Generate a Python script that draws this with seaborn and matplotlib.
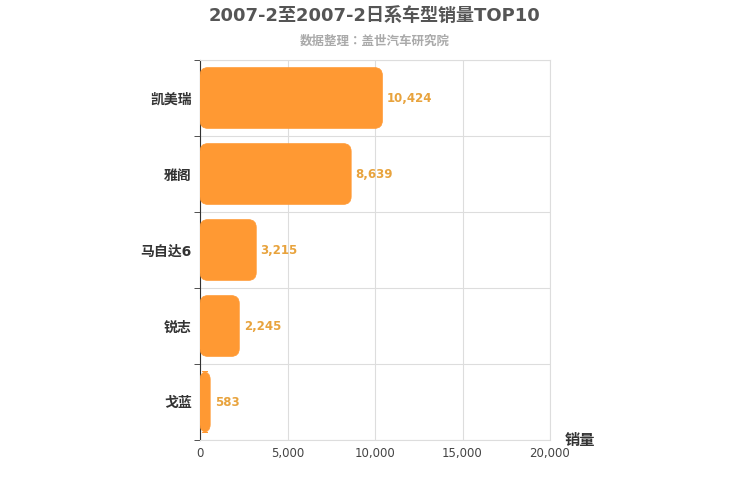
import matplotlib
matplotlib.use("Agg")
import matplotlib.pyplot as plt
import seaborn as sns
import pandas as pd
from matplotlib.patches import FancyBboxPatch

models = ["凯美瑞", "雅阁", "马自达6", "锐志", "戈蓝"]
sales = [10424, 8639, 3215, 2245, 583]
xticks = [0, 5000, 10000, 15000, 20000]

plt.rcParams["font.family"] = ["DejaVu Sans", "Noto Sans CJK SC", "Noto Sans CJK JP",
                               "Noto Sans CJK TC", "Noto Sans CJK KR"]
df = pd.DataFrame({"model": models, "sales": sales})
fig = plt.figure(figsize=(7.5, 5), dpi=100)
ax = fig.add_axes([200/750, 60/500, 350/750, 380/500])
sns.barplot(data=df, y="model", x="sales", orient="h", color="#FF9933", width=0.8, ax=ax, zorder=3)
ax.set_xlim(0, 20000)
ax.set_ylim(4.5, -0.5)
asp = (5/380)/(20000/350)
for p in list(ax.patches):
    x, y = p.get_x(), p.get_y()
    w, h = p.get_width(), p.get_height()
    fb = FancyBboxPatch((x, y), w, h, boxstyle="round,pad=0,rounding_size=450",
                        mutation_aspect=asp, fc="#FF9933", ec="#FF9933", lw=0.5, zorder=3)
    p.set_visible(False)
    ax.add_patch(fb)
for i, v in enumerate(sales):
    ax.text(v + 250, i, f"{v:,}", va="center", ha="left", color="#E8A33D", fontsize=8.5, fontweight="bold")
ax.set_xticks(xticks)
ax.set_xticklabels([f"{t:,}" for t in xticks], fontsize=8.5, color="#444444")
ax.set_yticks(range(len(models)))
ax.set_yticklabels(models, fontsize=10, fontweight="bold", color="#333333")
ax.tick_params(axis="y", length=0, pad=6)
ax.tick_params(axis="x", length=0, pad=5)
ax.set_yticks([i - 0.5 for i in range(len(models) + 1)], minor=True)
ax.tick_params(axis="y", which="minor", length=4, color="#333333")
ax.grid(axis="x", color="#dddddd", lw=0.8, zorder=0)
ax.grid(axis="y", which="minor", color="#dddddd", lw=0.8, zorder=0)
ax.grid(axis="y", which="major", visible=False)
ax.set_xlabel(""); ax.set_ylabel("")
for s in ["top", "right", "bottom"]:
    ax.spines[s].set_color("#dddddd")
ax.spines["left"].set_color("#333333")
fig.text(580/750, 1 - 440/500, "销量", ha="center", va="center", fontsize=11, fontweight="bold", color="#333333")
fig.text(375/750, 1 - 16/500, "2007-2至2007-2日系车型销量TOP10", ha="center", va="center",
         fontsize=13, fontweight="bold", color="#555555")
fig.text(375/750, 1 - 41/500, "数据整理：盖世汽车研究院", ha="center", va="center",
         fontsize=9, fontweight="bold", color="#aaaaaa")
fig.savefig("out.png", dpi=100)
